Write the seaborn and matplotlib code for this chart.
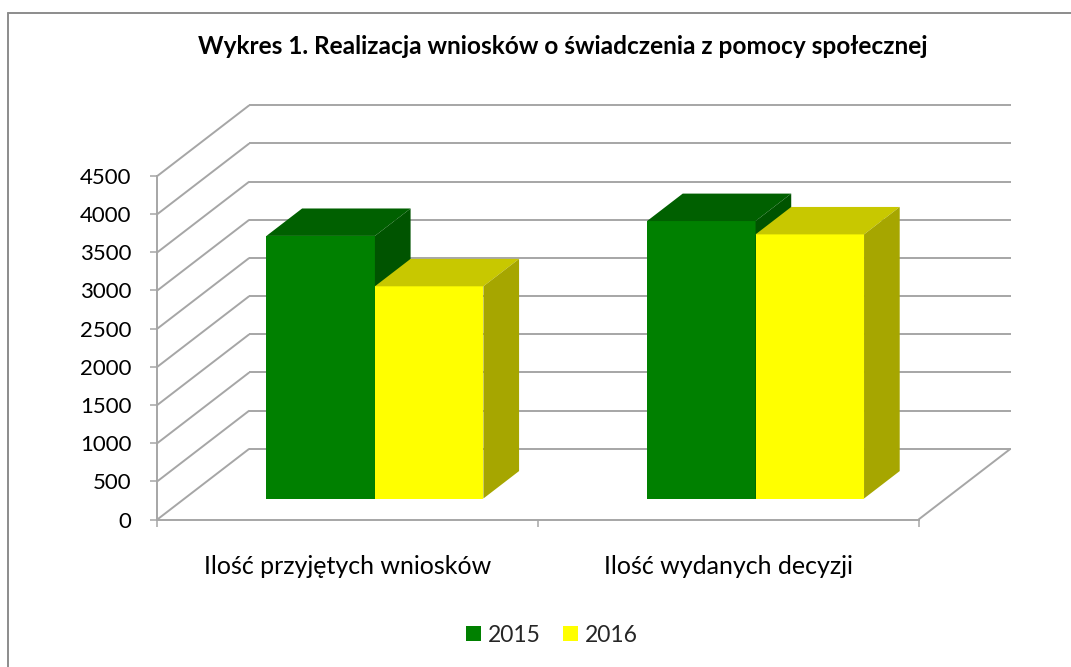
import matplotlib
matplotlib.use("Agg")
import numpy as np
import pandas as pd
import matplotlib.pyplot as plt
from matplotlib.patches import Polygon, Patch
from matplotlib.lines import Line2D
import seaborn as sns

# ---- data ----
categories = ["Ilość przyjętych wniosków", "Ilość wydanych decyzji"]
years = ["2015", "2016"]
values_2015 = [3440, 3635]
values_2016 = [2780, 3460]
y_ticks = [0, 500, 1000, 1500, 2000, 2500, 3000, 3500, 4000, 4500]
title = "Wykres 1. Realizacja wniosków o świadczenia z pomocy społecznej"

front_colors = {"2015": "#008000", "2016": "#FFFF00"}
top_colors = {"2015": "#006000", "2016": "#C8C800"}
side_colors = {"2015": "#005400", "2016": "#A6A600"}
grid_color = "#a6a6a6"

df = pd.DataFrame({
    "category": categories * 2,
    "year": [years[0]] * len(categories) + [years[1]] * len(categories),
    "value": values_2015 + values_2016,
})

sns.set_theme(style="white")
plt.rcParams["font.family"] = ["Lato", "DejaVu Sans"]

W, H = 1071, 667
fig = plt.figure(figsize=(W / 100, H / 100), dpi=100)
x_left, x_right = 157.3, 1010.5
y_bottom, y_top = 519.5, 105.3
ax = fig.add_axes([x_left / W, 1 - y_bottom / H, (x_right - x_left) / W, (y_bottom - y_top) / H])

ymax = y_ticks[-1]
px_per_val = (519.5 - 176.0) / ymax
DY = 70.7 / px_per_val
px_per_cat = (916.7 - 157.3) / len(categories)
DX = 91.7 / px_per_cat

sns.barplot(data=df, x="category", y="value", hue="year", hue_order=years,
            palette=front_colors, width=0.57, gap=0, dodge=True, ax=ax,
            legend=False, saturation=1, linewidth=0, errorbar=None)

# 3D-like extrusion of each bar
tf, depth = 0.297, 0.388
dx, dy = depth * DX, depth * DY
for ci, (cont, yr) in enumerate(zip(ax.containers, years)):
    for bar in cont:
        x0 = bar.get_x() + tf * DX
        y0 = bar.get_y() + tf * DY
        w = bar.get_width()
        h = bar.get_height()
        bar.set_x(x0)
        bar.set_y(y0)
        bar.set_zorder(3 + ci)
        top = Polygon([(x0, y0 + h), (x0 + w, y0 + h), (x0 + w + dx, y0 + h + dy), (x0 + dx, y0 + h + dy)],
                      closed=True, fc=top_colors[yr], ec="none", zorder=3 + ci + 0.1)
        side = Polygon([(x0 + w, y0), (x0 + w + dx, y0 + dy), (x0 + w + dx, y0 + h + dy), (x0 + w, y0 + h)],
                       closed=True, fc=side_colors[yr], ec="none", zorder=3 + ci + 0.1)
        ax.add_patch(top)
        ax.add_patch(side)

# walls / grid
xl, xr = -0.5, len(categories) - 0.5
grid_kw = dict(color=grid_color, lw=1.4, zorder=1, solid_capstyle="butt", clip_on=False)
for v in y_ticks:
    ax.plot([xl + DX, xr + DX], [v + DY, v + DY], **grid_kw)
    ax.plot([xl, xl + DX], [v, v + DY], **grid_kw)
ax.plot([xr, xr + DX], [0, DY], **grid_kw)

ax.set_xlim(xl, xr + DX)
ax.set_ylim(0, ymax + DY)

for s in ["top", "right"]:
    ax.spines[s].set_visible(False)
ax.spines["left"].set_bounds(0, ymax)
ax.spines["bottom"].set_bounds(xl, xr)
for s in ["left", "bottom"]:
    ax.spines[s].set_color(grid_color)
    ax.spines[s].set_linewidth(1.4)

ax.set_yticks(y_ticks)
ax.set_yticklabels([str(v) for v in y_ticks])
ax.tick_params(axis="y", left=True, direction="out", length=5, width=1.1, color=grid_color,
               pad=13.7, labelsize=16, labelcolor="black")
ax.set_xticks(range(len(categories)))
ax.set_xticklabels(categories)
ax.tick_params(axis="x", which="major", bottom=True, length=0, pad=25.5, labelsize=18, labelcolor="black")
ax.set_xticks([xl + i for i in range(len(categories) + 1)], minor=True)
ax.tick_params(axis="x", which="minor", bottom=True, length=5, width=1.1, color=grid_color, direction="out")
ax.set_xlabel("")
ax.set_ylabel("")
ax.patch.set_alpha(0)

fig.text(563 / W, 1 - 47 / H, title, ha="center", va="center", fontsize=17.6, fontweight="bold", color="black")

# chart-area frame (top and left edges visible)
frame_kw = dict(color="#8c8c8c", lw=1.4, transform=fig.transFigure)
fig.add_artist(Line2D([7.5 / W, 7.5 / W], [1 - 13.3 / H, 0], **frame_kw))
fig.add_artist(Line2D([7.5 / W, 1], [1 - 13.3 / H, 1 - 13.3 / H], **frame_kw))

handles = [Patch(facecolor=front_colors[y], edgecolor="none", label=y) for y in years]
fig.legend(handles=handles, loc="center", bbox_to_anchor=(552 / W, 1 - 635 / H), ncol=2, frameon=False,
           fontsize=16.5, handlelength=0.66, handleheight=0.66, handletextpad=0.32, columnspacing=0.95)

fig.savefig("out.png", dpi=100, facecolor="white")
